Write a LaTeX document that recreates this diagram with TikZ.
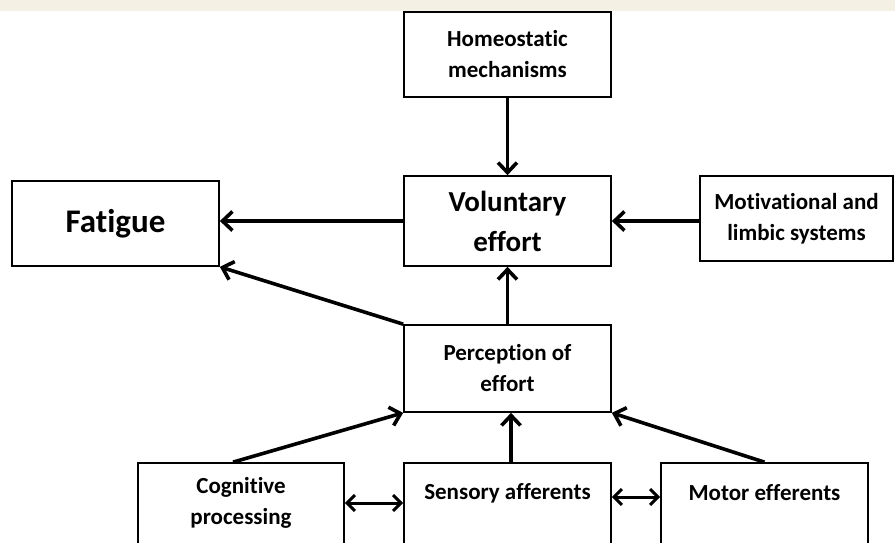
\documentclass[tikz,border=0pt]{standalone}
\usepackage{fontspec}
\setmainfont[Ligatures={NoCommon}]{Carlito}
\usetikzlibrary{arrows.meta}

\definecolor{bandcream}{HTML}{F4F1E4}

\tikzset{
    box/.style={draw, line width=1.7pt, inner sep=0pt, minimum width=207pt,
        minimum height=85pt, align=center, font=\bfseries\fontsize{23}{31}\selectfont},
    bigbox/.style={box, font=\bfseries\fontsize{29}{40}\selectfont},
    txt/.style={inner sep=0pt, align=center, font=\bfseries\fontsize{23}{31}\selectfont},
    arr/.style={line width=3.6pt, -{Straight Barb[length=10pt,width=19pt]}},
    dblarr/.style={line width=3pt, {Straight Barb[length=8pt,width=16pt]}-{Straight Barb[length=8pt,width=16pt]}}
}

\begin{document}
\begin{tikzpicture}[x=1pt, y=-1pt]

    % page and top band
    \useasboundingbox (0,0) rectangle (895,542);
    \clip (0,0) rectangle (895,542);
    \fill[bandcream] (0,0) rectangle (895,11);

    % upper boxes
    \node[box] (homeo) at (507.5,54.5) {Homeostatic\\mechanisms};
    \node[bigbox, minimum height=90pt] (vol) at (507.5,221) {Voluntary\\effort};
    \node[bigbox, font=\bfseries\fontsize{33}{40}\selectfont] (fatigue) at (115.5,223.5) {Fatigue};
    \node[box, minimum width=193pt] (motiv) at (796.5,218.5) {Motivational and\\limbic systems};
    \node[box, minimum height=87pt] (percep) at (507.5,368.5) {Perception of\\effort};

    % bottom row (runs off the page)
    \node[box, minimum width=206pt, minimum height=100pt] (cog) at (241,513) {};
    \node[box, minimum height=100pt] (sensory) at (507.5,513) {};
    \node[box, minimum height=100pt] (motor) at (764.5,513) {};
    \node[txt] (cogtxt) at (241,503) {Cognitive\\processing};
    \node[txt] (sensorytxt) at (507.5,493) {Sensory afferents};
    \node[txt] (motortxt) at (764.5,493) {Motor efferents};

    % arrows into voluntary effort
    \draw[arr] (homeo.south) -- (vol.north);
    \draw[arr] (percep.north) -- (vol.south);
    \draw[arr] (motiv.west |- vol.east) -- (vol.east);

    % arrows into fatigue
    \draw[arr] (vol.west) -- (vol.west -| fatigue.east);
    \draw[arr] (percep.north west) -- (fatigue.south east);

    % arrows into perception of effort
    \draw[arr] ([xshift=-8pt]cog.north) -- (percep.south west);
    \draw[arr] ([xshift=3.5pt]sensory.north) -- ([xshift=3.5pt]percep.south);
    \draw[arr] (motor.north) -- (percep.south east);

    % two-way links
    \draw[dblarr] (cog.east |- cogtxt) -- (sensory.west |- cogtxt);
    \draw[dblarr] ([yshift=-4pt]sensory.east |- motortxt) -- ([yshift=-4pt]motor.west |- motortxt);

\end{tikzpicture}
\end{document}
